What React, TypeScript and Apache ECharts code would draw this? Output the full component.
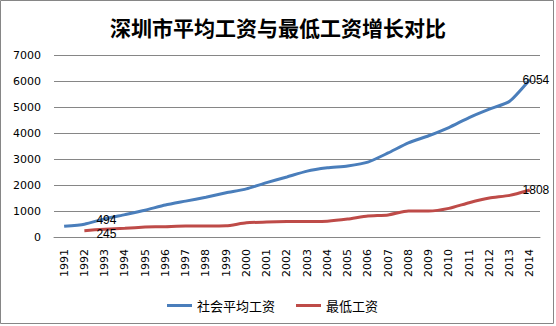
import React, { useEffect, useRef } from "react";
import * as echarts from "echarts";

const years = [
  "1991", "1992", "1993", "1994", "1995", "1996", "1997", "1998", "1999", "2000",
  "2001", "2002", "2003", "2004", "2005", "2006", "2007", "2008", "2009", "2010",
  "2011", "2012", "2013", "2014",
];
const avgWage = [
  409, 494, 697, 860, 1030, 1230, 1380, 1530, 1700, 1850,
  2090, 2309, 2535, 2660, 2735, 2878, 3233, 3621, 3894, 4210,
  4595, 4918, 5218, 6054,
];
const minWage = [
  null, 245, 300, 338, 380, 398, 420, 420, 430, 547,
  574, 595, 600, 610, 690, 810, 850, 1000, 1000, 1100,
  1320, 1500, 1600, 1808,
];
const yTicks = { min: 0, max: 7000, interval: 1000 };
const seriesNames = ["社会平均工资", "最低工资"];
const titleText = "深圳市平均工资与最低工资增长对比";

const labelStyle = {
  show: true,
  color: "#000",
  fontSize: 12,
  lineHeight: 12,
  fontFamily: "Liberation Sans, Arial, sans-serif",
};

function buildData(values: (number | null)[], firstIdx: number, dy: number) {
  const last = values.length - 1;
  return values.map((v, i) => {
    if (i === firstIdx) {
      return {
        value: v,
        label: { ...labelStyle, position: "right", distance: 12, offset: [0, dy] },
      };
    }
    if (i === last) {
      return { value: v, label: { ...labelStyle, position: "inside", offset: [6, 0] } };
    }
    return v;
  });
}

export default function App() {
  const ref = useRef<HTMLDivElement>(null);
  useEffect(() => {
    if (!ref.current) return;
    const chart = echarts.init(ref.current, undefined, { renderer: "svg" });
    chart.setOption({
      animation: false,
      backgroundColor: "#fff",
      title: {
        text: titleText,
        left: "center",
        top: 11,
        textStyle: {
          fontSize: 21,
          fontWeight: "bold",
          color: "#000",
          fontFamily: "Noto Sans CJK SC, sans-serif",
        },
      },
      graphic: [
        {
          type: "rect",
          shape: { x: 0.5, y: 0.5, width: 553, height: 323 },
          style: { fill: "none", stroke: "#868686", lineWidth: 1 },
          silent: true,
        },
      ],
      legend: {
        left: 162,
        top: 294,
        itemWidth: 25,
        itemHeight: 3,
        itemGap: 21,
        icon: "rect",
        textStyle: {
          fontSize: 13,
          color: "#000",
          fontFamily: "Noto Sans CJK SC, sans-serif",
        },
        data: seriesNames,
      },
      grid: { left: 54, right: 16, top: 55, bottom: 89 },
      xAxis: {
        type: "category",
        data: years,
        boundaryGap: true,
        axisLine: { lineStyle: { color: "#868686" } },
        axisTick: { show: false },
        axisLabel: {
          rotate: 90,
          margin: 12,
          interval: 0,
          color: "#000",
          fontSize: 11,
          fontFamily: "DejaVu Sans, Verdana, sans-serif",
        },
      },
      yAxis: {
        type: "value",
        min: yTicks.min,
        max: yTicks.max,
        interval: yTicks.interval,
        axisLine: { show: false },
        axisTick: { show: false },
        splitLine: { lineStyle: { color: "#868686", width: 1 } },
        axisLabel: {
          margin: 13,
          color: "#000",
          fontSize: 11,
          fontFamily: "DejaVu Sans, Verdana, sans-serif",
          formatter: (v: number) => String(v),
        },
      },
      series: [
        {
          name: seriesNames[0],
          type: "line",
          data: buildData(avgWage, 1, -4),
          smooth: 0.2,
          symbol: "circle",
          symbolSize: 0,
          showSymbol: true,
          lineStyle: { color: "#4A7EBB", width: 3 },
          itemStyle: { color: "#4A7EBB" },
        },
        {
          name: seriesNames[1],
          type: "line",
          data: buildData(minWage, 1, 3),
          smooth: 0.2,
          symbol: "circle",
          symbolSize: 0,
          showSymbol: true,
          lineStyle: { color: "#BE4B48", width: 3 },
          itemStyle: { color: "#BE4B48" },
        },
      ],
    });
    return () => chart.dispose();
  }, []);
  return (
    <div
      ref={ref}
      style={{ position: "fixed", left: 0, top: 0, width: 556, height: 326 }}
    />
  );
}
